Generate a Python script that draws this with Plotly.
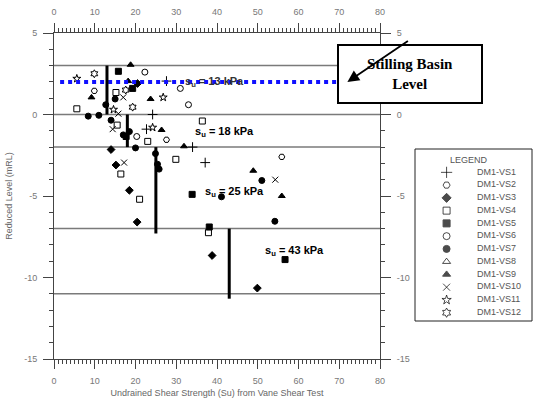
import plotly.graph_objects as go

# ---------------- data ----------------
series_names = ["DM1-VS1", "DM1-VS2", "DM1-VS3", "DM1-VS4", "DM1-VS5", "DM1-VS6",
                "DM1-VS7", "DM1-VS8", "DM1-VS9", "DM1-VS10", "DM1-VS11", "DM1-VS12"]

vs1_su = [27.6, 24.2, 22.7, 34.0, 37.1]
vs1_rl = [2.05, 0.0, -0.9, -2.0, -2.95]
vs2_su = [9.9, 27.6, 55.9]
vs2_rl = [1.45, -1.55, -2.6]
vs3_su = [20.5, 14.0, 15.2, 18.5, 20.4, 38.8, 49.9]
vs3_rl = [1.9, -2.15, -3.1, -4.65, -6.6, -8.65, -10.65]
vs4_su = [15.2, 5.6, 15.5, 23.0, 29.9, 16.4, 21.0, 37.9, 36.4]
vs4_rl = [1.35, 0.35, -0.65, -1.65, -2.75, -3.65, -5.2, -7.25, -0.4]
vs5_su = [15.8, 19.3, 17.7, 33.9, 38.1, 56.7]
vs5_rl = [2.65, 1.6, -1.35, -4.9, -6.9, -8.9]
vs6_su = [22.3, 31.0, 33.0, 20.3]
vs6_rl = [2.6, 1.6, 0.6, -1.35]
vs7_su = [15.0, 12.7, 8.4, 11.0, 14.0, 17.0, 18.5, 20.0, 24.9, 25.4, 25.8, 41.1, 51.0, 54.2]
vs7_rl = [0.95, 0.6, -0.1, -0.05, -0.35, -1.25, -1.05, -2.05, -2.4, -3.05, -3.35, -5.05, -4.05, -6.55]
vs8_su = []
vs8_rl = []
vs9_su = [18.8, 18.2, 9.2, 23.7, 26.4, 31.9, 48.9, 55.9]
vs9_rl = [3.05, 2.05, 1.05, 0.95, -0.95, -1.95, -3.45, -5.0]
vs10_su = [17.0, 15.8, 14.4, 17.2, 54.3]
vs10_rl = [1.05, 0.05, -0.9, -2.95, -4.0]
vs11_su = [5.6, 26.8, 14.6, 24.2]
vs11_rl = [2.2, 1.05, 0.3, -0.8]
vs12_su = [9.9, 17.6, 19.3]
vs12_rl = [2.5, 1.5, 0.45]

layer_bounds = [3, 0, -2, -7, -11]
design_su = [13, 18, 25, 43]
design_top = [3, 0, -2, -7]
design_bottom = [0, -2, -7.3, -11.3]
design_labels = ["s<sub>u</sub> = 13 kPa", "s<sub>u</sub> = 18 kPa",
                 "s<sub>u</sub> = 25 kPa", "s<sub>u</sub> = 43 kPa"]
design_label_x = [31.7, 34.0, 36.5, 51.4]
design_label_y = [2.0, -1.05, -4.75, -8.35]

basin_level = 2.0
basin_x = [1.5, 80]

x_ticks = [0, 10, 20, 30, 40, 50, 60, 70, 80]
y_ticks = [5, 0, -5, -10, -15]
y_tick_text = ["5", "0", "-5", "-10", "-15"]

# ---------------- styles ----------------
su_all = [vs1_su, vs2_su, vs3_su, vs4_su, vs5_su, vs6_su, vs7_su, vs8_su, vs9_su, vs10_su, vs11_su, vs12_su]
rl_all = [vs1_rl, vs2_rl, vs3_rl, vs4_rl, vs5_rl, vs6_rl, vs7_rl, vs8_rl, vs9_rl, vs10_rl, vs11_rl, vs12_rl]
symbols = ["cross-thin-open", "hexagon2-open", "diamond", "square-open", "square", "circle-open",
           "circle", "triangle-up-open", "triangle-up", "x-thin-open", "star-open", "hexagram-open"]
sizes = [7, 6, 6, 6, 6, 6, 6, 6, 6, 6, 6, 6]
label_colors = ["#333", "black", "black", "black"]

W, H = 560, 398
PL, PR, PT, PB = 54, 380, 33, 359
xdom = [PL / W, PR / W]
ydom = [1 - PB / H, 1 - PT / H]

fig = go.Figure()

for su, rl, sym, sz, name in zip(su_all, rl_all, symbols, sizes, series_names):
    fig.add_trace(go.Scatter(
        x=su, y=rl, mode="markers", name=name, showlegend=False,
        marker=dict(symbol=sym, size=sz, color="black", line=dict(color="black", width=1)),
        xaxis="x", yaxis="y"))

# stilling basin level
fig.add_trace(go.Scatter(x=basin_x, y=[basin_level] * len(basin_x), mode="lines",
                         line=dict(color="#1010ff", width=4, dash="dot"), showlegend=False))

# invisible trace to activate top/right axes
fig.add_trace(go.Scatter(x=[None], y=[None], xaxis="x2", yaxis="y2", showlegend=False))

# custom legend
leg_rows = list(range(len(series_names)))
fig.add_trace(go.Scatter(
    x=[0.27] * len(series_names), y=leg_rows, mode="markers", xaxis="x3", yaxis="y3",
    showlegend=False,
    marker=dict(symbol=symbols, size=[s + 1 for s in sizes], color="black",
                line=dict(color="black", width=1))))
fig.add_trace(go.Scatter(
    x=[0.53] * len(series_names), y=leg_rows, mode="text", text=series_names,
    textposition="middle right", xaxis="x3", yaxis="y3", showlegend=False,
    textfont=dict(family="Liberation Sans", size=9, color="#555")))

shapes = []
for yb in layer_bounds:
    shapes.append(dict(type="line", xref="x", yref="y", x0=0, x1=80, y0=yb, y1=yb,
                       line=dict(color="#7a7a7a", width=1.5), layer="below"))
for su, y0, y1 in zip(design_su, design_top, design_bottom):
    shapes.append(dict(type="line", xref="x", yref="y", x0=su, x1=su, y0=y0, y1=y1,
                       line=dict(color="black", width=3)))
# legend frame
shapes.append(dict(type="rect", xref="paper", yref="paper",
                   x0=415 / W, x1=532 / W, y0=1 - 321 / H, y1=1 - 149 / H,
                   line=dict(color="#222", width=1)))

annotations = []
for txt, lx, ly, lc in zip(design_labels, design_label_x, design_label_y, label_colors):
    annotations.append(dict(x=lx, y=ly, xref="x", yref="y", text=txt, showarrow=False,
                            xanchor="left", yanchor="middle",
                            font=dict(family="Liberation Sans", size=11, color=lc, weight="bold")))
annotations.append(dict(x=0.46, y=-0.95, xref="x3", yref="y3", text="LEGEND", showarrow=False,
                        font=dict(family="Liberation Sans", size=9, color="#555")))
# stilling basin box + arrow
annotations.append(dict(x=(410 + 556) / 2 / W, y=1 - (14 + 74) / 2 / H, xref="paper", yref="paper",
                        text="<b>Stilling Basin<br>Level</b>", showarrow=False,
                        width=140, height=54, bordercolor="black", borderwidth=2, bgcolor="white",
                        font=dict(family="Liberation Serif", size=15, color="black")))
annotations.append(dict(x=72, y=basin_level, xref="x", yref="y", text="", showarrow=True,
                        arrowhead=2, arrowsize=1.3, arrowwidth=1.8, arrowcolor="black",
                        ax=62, ay=-42))

tickfont = dict(family="Liberation Sans", size=9, color="#777")
axline = "#444"
xcommon = dict(range=[0, 80], tickvals=x_ticks, ticks="outside", ticklen=9, tickcolor=axline,
               showline=True, linecolor=axline, linewidth=1, showgrid=False, zeroline=False,
               tickfont=tickfont, ticklabelstandoff=4, automargin=False,
               minor=dict(dtick=1, ticklen=4, ticks="outside", tickcolor=axline, showgrid=False))
ycommon = dict(range=[-15, 5], tickvals=y_ticks, ticktext=y_tick_text, ticks="outside", ticklen=10,
               tickcolor=axline, showline=True, linecolor=axline, linewidth=1, showgrid=False,
               zeroline=False, tickfont=tickfont, ticklabelstandoff=4, automargin=False,
               minor=dict(dtick=1, ticklen=4, ticks="outside", tickcolor=axline, showgrid=False))

fig.update_layout(
    width=W, height=H, margin=dict(l=0, r=0, t=0, b=0),
    paper_bgcolor="white", plot_bgcolor="white", showlegend=False,
    xaxis=dict(domain=xdom, anchor="y",
               title=dict(text="Undrained Shear Strength (Su) from Vane Shear Test", standoff=4,
                          font=dict(family="Liberation Sans", size=9, color="#666")), **xcommon),
    yaxis=dict(domain=ydom, anchor="x",
               title=dict(text="Reduced Level (mRL)", standoff=10,
                          font=dict(family="Liberation Sans", size=9, color="#666")), **ycommon),
    xaxis2=dict(overlaying="x", side="top", anchor="y", **xcommon),
    yaxis2=dict(overlaying="y", side="right", anchor="x", **ycommon),
    xaxis3=dict(domain=[415 / W, 532 / W], range=[0, 1], visible=False, anchor="y3", automargin=False),
    yaxis3=dict(domain=[1 - 321 / H, 1 - 149 / H], range=[11.65, -1.83], visible=False, anchor="x3",
                automargin=False),
    shapes=shapes, annotations=annotations,
)

fig.write_html("out.html", config={"displayModeBar": False},
               post_script="document.body.style.margin='0';document.body.style.overflow='hidden';")
